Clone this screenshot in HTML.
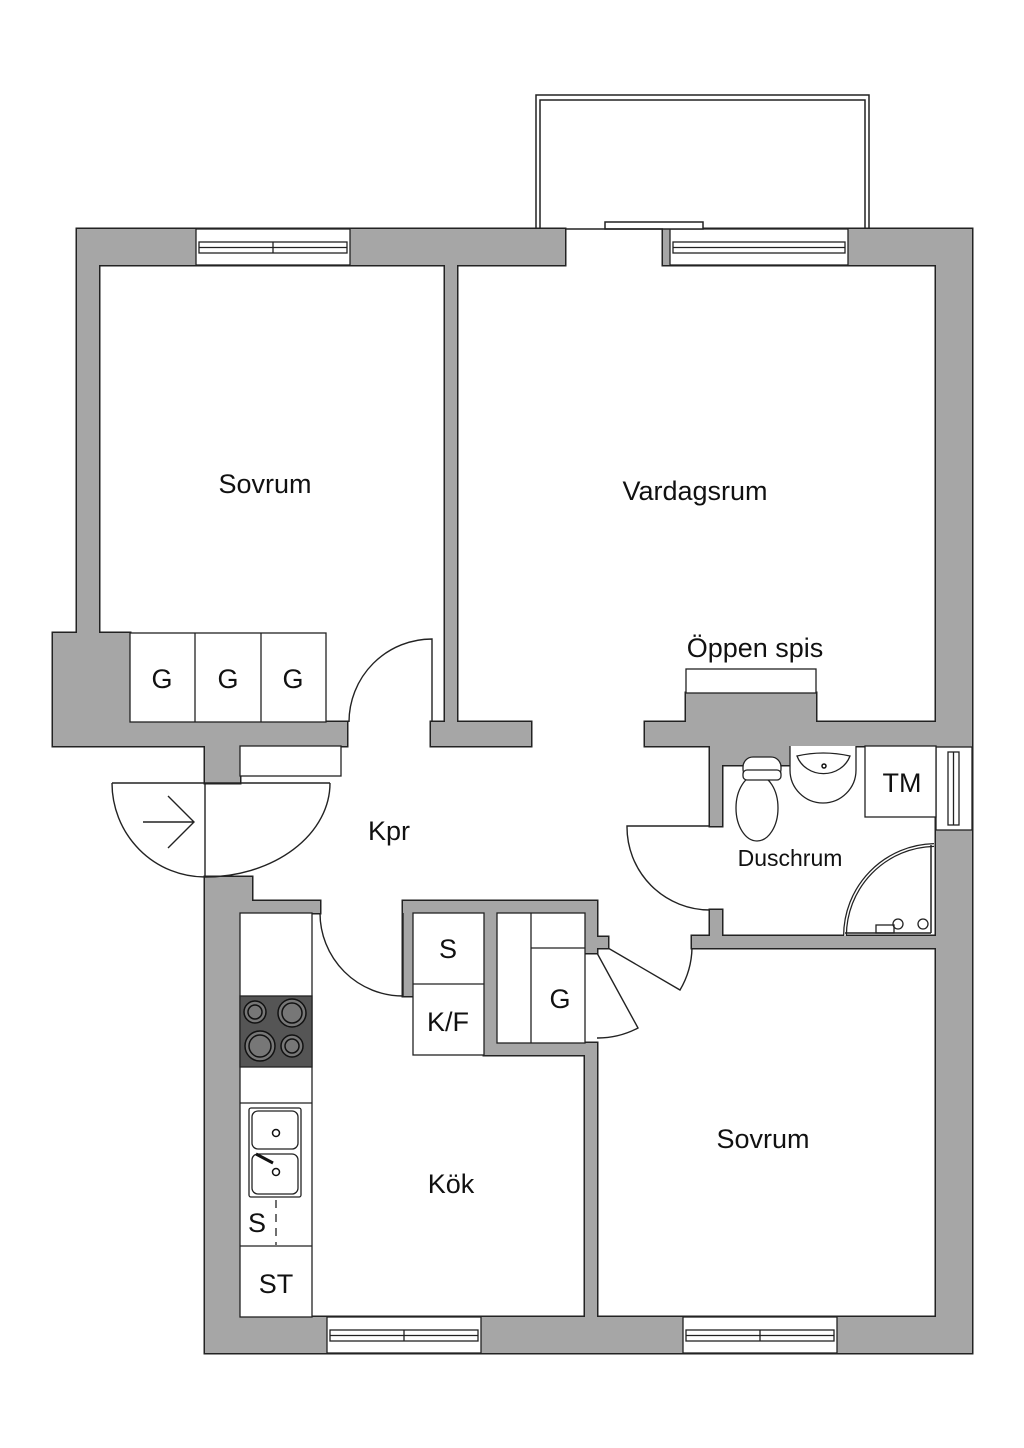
<!DOCTYPE html>
<html><head><meta charset="utf-8"><style>
html,body{margin:0;padding:0;background:#fff}
svg{display:block}
text{font-family:"Liberation Sans",sans-serif;fill:#111}
</style></head><body>
<svg width="1024" height="1448" viewBox="0 0 1024 1448" xmlns="http://www.w3.org/2000/svg">
<defs>
<g id="walls">
<rect x="77" y="229" width="488" height="36"/>
<rect x="663" y="229" width="309" height="36"/>
<rect x="77" y="229" width="22" height="410"/>
<rect x="53" y="633" width="77" height="113"/>
<rect x="53" y="722" width="294" height="24"/>
<rect x="445" y="265" width="12" height="457"/>
<rect x="431" y="722" width="100" height="24"/>
<rect x="936" y="229" width="36" height="1124"/>
<rect x="645" y="722" width="291" height="24"/>
<rect x="686" y="693" width="130" height="30"/>
<rect x="710" y="746" width="80" height="19"/>
<rect x="710" y="746" width="12" height="80"/>
<rect x="710" y="910" width="12" height="38"/>
<rect x="692" y="936" width="244" height="12"/>
<rect x="205" y="746" width="35" height="37"/>
<rect x="205" y="877" width="35" height="476"/>
<rect x="240" y="877" width="12" height="70"/>
<rect x="240" y="901" width="80" height="12"/>
<rect x="403" y="901" width="194" height="12"/>
<rect x="403" y="901" width="10" height="95"/>
<rect x="484" y="913" width="13" height="142"/>
<rect x="484" y="1043" width="113" height="12"/>
<rect x="585" y="1043" width="12" height="274"/>
<rect x="585" y="901" width="12" height="52"/>
<rect x="597" y="937" width="11" height="11"/>
<rect x="205" y="1317" width="767" height="36"/>
</g>
</defs>
<use href="#walls" fill="#222" stroke="#222" stroke-width="3"/>
<use href="#walls" fill="#a6a6a6" stroke="none"/>
<!-- windows -->
<g fill="#fff" stroke="#222" stroke-width="1.3">
<rect x="196" y="229" width="154" height="36"/>
<rect x="199" y="242" width="148" height="11"/><line x1="273" y1="242" x2="273" y2="253"/><line x1="199" y1="247.5" x2="347" y2="247.5"/>
<rect x="670" y="229" width="178" height="36"/>
<rect x="673" y="242" width="172" height="11"/><line x1="673" y1="247.5" x2="845" y2="247.5"/>
<rect x="327" y="1317" width="154" height="36"/>
<rect x="330" y="1330" width="148" height="11"/><line x1="404" y1="1330" x2="404" y2="1341"/><line x1="330" y1="1335.5" x2="478" y2="1335.5"/>
<rect x="683" y="1317" width="154" height="36"/>
<rect x="686" y="1330" width="148" height="11"/><line x1="760" y1="1330" x2="760" y2="1341"/><line x1="686" y1="1335.5" x2="834" y2="1335.5"/>
<rect x="936" y="747" width="36" height="83"/>
<rect x="948" y="752" width="11" height="73"/><line x1="953.5" y1="752" x2="953.5" y2="825"/>
</g>
<!-- balcony -->
<g fill="none" stroke="#222" stroke-width="1.5">
<path d="M536 229 V95 H869 V229"/>
<path d="M540 229 V100 H865 V229"/>
<rect x="605" y="222" width="98" height="7" fill="#fff"/>
<line x1="565" y1="229" x2="663" y2="229"/>
</g>
<!-- fixtures -->
<g fill="#fff" stroke="#222" stroke-width="1.3">
<rect x="130" y="633" width="196" height="89"/>
<line x1="195" y1="633" x2="195" y2="722"/><line x1="261" y1="633" x2="261" y2="722"/>
<rect x="686" y="669" width="130" height="24"/>
<rect x="240" y="746" width="101" height="30"/>
<rect x="240" y="913" width="72" height="404"/>
<rect x="240" y="996" width="72" height="71" fill="#555"/>
<line x1="240" y1="1103" x2="312" y2="1103"/>
<line x1="240" y1="1246" x2="312" y2="1246"/>
<rect x="249" y="1108" width="52" height="89" rx="2"/>
<rect x="252" y="1111" width="46" height="38" rx="6"/>
<rect x="252" y="1154" width="46" height="40" rx="6"/>
<line x1="276" y1="1200" x2="276" y2="1245" stroke-dasharray="8,6"/>
<rect x="413" y="913" width="71" height="142"/>
<line x1="413" y1="984" x2="484" y2="984"/>
<rect x="497" y="913" width="88" height="130"/>
<line x1="531" y1="913" x2="531" y2="1043"/>
<line x1="531" y1="948" x2="585" y2="948"/>
<rect x="865" y="746" width="71" height="71"/>
<path d="M790 746 V770 A33 33 0 0 0 856 770 V746"/>
<path d="M797 756 A28 26 0 0 0 850 756 Q823 750 797 756Z"/>
<rect x="743" y="757" width="38" height="22" rx="10"/>
<ellipse cx="757" cy="808" rx="21" ry="33"/>
<rect x="743" y="770" width="38" height="10" rx="4"/>
</g>
<g fill="#777" stroke="#111" stroke-width="1.5">
<circle cx="255" cy="1012" r="11"/><circle cx="255" cy="1012" r="7"/>
<circle cx="292" cy="1013" r="14"/><circle cx="292" cy="1013" r="10"/>
<circle cx="260" cy="1046" r="15"/><circle cx="260" cy="1046" r="11"/>
<circle cx="292" cy="1046" r="11"/><circle cx="292" cy="1046" r="7"/>
</g>
<g fill="#fff" stroke="#111" stroke-width="1.5">
<circle cx="276" cy="1133" r="3.5"/><circle cx="276" cy="1172" r="3.5"/>
<line x1="256" y1="1154" x2="273" y2="1163" stroke-width="3"/>
<circle cx="824" cy="766" r="2"/>
</g>
<g fill="none" stroke="#222">
<path d="M845 936 A91 91 0 0 1 934 845" stroke-width="4"/>
<path d="M845 936 A91 91 0 0 1 934 845" stroke="#fff" stroke-width="1.5"/>
<line x1="931" y1="845" x2="931" y2="933" stroke-width="1.5"/>
<line x1="845" y1="933" x2="931" y2="933" stroke-width="1.5"/>
<circle cx="923" cy="924" r="5" stroke-width="1.3"/>
<rect x="876" y="925" width="18" height="8" stroke-width="1.3"/>
<circle cx="898" cy="924" r="5" stroke-width="1.3"/>
</g>
<g fill="none" stroke="#222" stroke-width="1.4">
<path d="M432 722 V639 A83 83 0 0 0 349 722"/>
<path d="M710 826 H627 A83 83 0 0 0 710 910"/>
<path d="M403 996 V913 M320 913 A83 83 0 0 0 403 996"/>
<path d="M608 948 L680 990 A86 86 0 0 0 692 948"/>
<path d="M597 953 L638 1028 A86 86 0 0 1 597 1038"/>
<path d="M205 783 V877 M112 783 H330 M112 783 A93 94 0 0 0 205 877 M330 783 A125 94 0 0 1 205 877"/>
<path d="M143 822 H193 M168 796 L194 822 L168 848"/>
</g>
<g font-size="27" text-anchor="middle">
<text x="265" y="493">Sovrum</text>
<text x="695" y="500">Vardagsrum</text>
<text x="755" y="657">Öppen spis</text>
<text x="389" y="840">Kpr</text>
<text x="451" y="1193">Kök</text>
<text x="763" y="1148">Sovrum</text>
<text x="902" y="792">TM</text>
<text x="162" y="688">G</text><text x="228" y="688">G</text><text x="293" y="688">G</text>
<text x="448" y="958">S</text>
<text x="448" y="1031">K/F</text>
<text x="560" y="1008">G</text>
<text x="257" y="1232">S</text>
<text x="276" y="1293">ST</text>
<text x="790" y="866" font-size="23">Duschrum</text>
</g>
</svg>
</body></html>
